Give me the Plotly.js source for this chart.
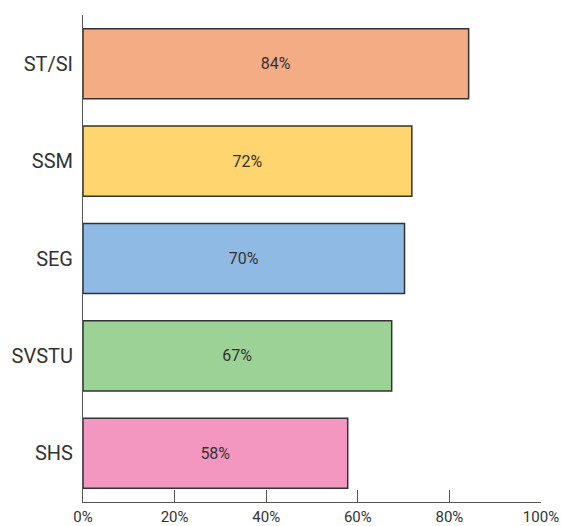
<!DOCTYPE html>
<html>
<head>
<meta charset="utf-8">
<script src="https://cdn.plot.ly/plotly-3.0.1.min.js"></script>
<style>html,body{margin:0;padding:0;background:#fff;}#chart{width:561px;height:526px;}</style>
</head>
<body>
<div id="chart"></div>
<script>
const categories = ["ST/SI", "SSM", "SEG", "SVSTU", "SHS"];
const values = [84.2, 71.8, 70.2, 67.4, 57.8];
const barLabels = ["84%", "72%", "70%", "67%", "58%"];
const barColors = ["#F4AC84", "#FED56F", "#8FBAE3", "#9CD296", "#F396C0"];
const xTickValues = [0, 20, 40, 60, 80, 100];
const xTickLabels = ["0%", "20%", "40%", "60%", "80%", "100%"];

const trace = {
  type: "bar",
  orientation: "h",
  y: categories,
  x: values,
  text: barLabels,
  textposition: "inside",
  insidetextanchor: "middle",
  textangle: 0,
  textfont: {family: "Roboto, sans-serif", size: 16, color: "#333"},
  marker: {color: barColors, line: {color: "#333", width: 1.5}},
  hoverinfo: "none"
};

const layout = {
  width: 561,
  height: 526,
  margin: {l: 83, r: 20, t: 15, b: 24},
  paper_bgcolor: "#fff",
  plot_bgcolor: "#fff",
  showlegend: false,
  bargap: 0.28,
  font: {family: "Roboto, sans-serif", color: "#333"},
  xaxis: {
    range: [0, 100],
    tickvals: xTickValues,
    ticktext: xTickLabels,
    ticks: "inside",
    ticklen: 12,
    tickwidth: 1,
    tickcolor: "#555",
    showline: true,
    linecolor: "#555",
    linewidth: 1,
    showgrid: false,
    zeroline: false,
    tickfont: {size: 15, color: "#333"},
    ticklabelstandoff: 1,
    fixedrange: true
  },
  yaxis: {
    type: "category",
    categoryorder: "array",
    categoryarray: categories,
    autorange: "reversed",
    showline: true,
    linecolor: "#555",
    linewidth: 1,
    ticks: "",
    showgrid: false,
    zeroline: false,
    tickfont: {size: 20, color: "#333"},
    ticklabelstandoff: 5,
    fixedrange: true
  }
};

Plotly.newPlot("chart", [trace], layout, {displayModeBar: false, staticPlot: true});
</script>
</body>
</html>
